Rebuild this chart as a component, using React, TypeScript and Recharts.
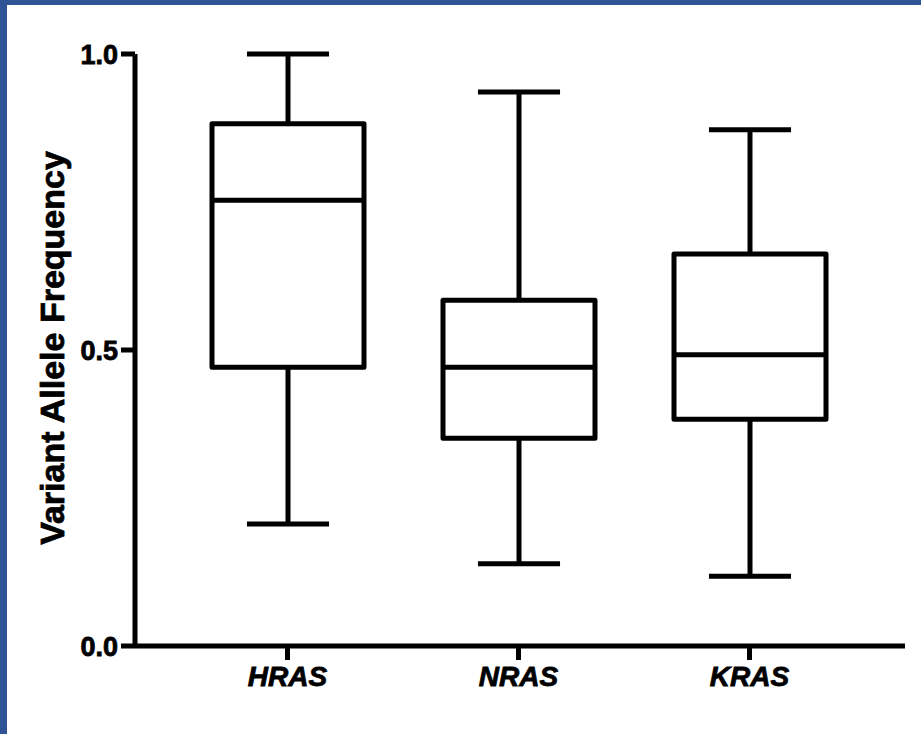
import React from 'react';
import { ComposedChart, Bar, XAxis, YAxis } from 'recharts';

const genes = ['HRAS', 'NRAS', 'KRAS'];
const minVals = [0.206, 0.139, 0.118];
const q1Vals = [0.471, 0.351, 0.383];
const medianVals = [0.753, 0.471, 0.492];
const q3Vals = [0.882, 0.584, 0.662];
const maxVals = [1.0, 0.936, 0.872];
const yTicks = [0, 0.5, 1];

const data = genes.map((gene, i) => ({
  gene,
  min: minVals[i],
  q1: q1Vals[i],
  median: medianVals[i],
  q3: q3Vals[i],
  max: maxVals[i],
}));

const FONT = '"Liberation Sans", Arial, Helvetica, sans-serif';

// ranged bar [min, max]; inner values are placed linearly between the two pixel ends
const BoxShape = (props: any) => {
  const { x, y, width, height, payload } = props;
  const top = Math.min(y, y + height);
  const bottom = Math.max(y, y + height);
  const { min, q1, median, q3, max } = payload;
  const toPx = (v: number) => bottom - ((v - min) / (max - min)) * (bottom - top);
  const cx = x + width / 2;
  const capHalf = width * 0.27;
  const sw = 5;
  return (
    <g stroke="#000" strokeWidth={sw} fill="none">
      <line x1={cx} x2={cx} y1={toPx(max)} y2={toPx(q3)} />
      <line x1={cx} x2={cx} y1={toPx(q1)} y2={toPx(min)} />
      <line x1={cx - capHalf} x2={cx + capHalf} y1={toPx(max)} y2={toPx(max)} />
      <line x1={cx - capHalf} x2={cx + capHalf} y1={toPx(min)} y2={toPx(min)} />
      <rect x={x} y={toPx(q3)} width={width} height={toPx(q1) - toPx(q3)} fill="#fff" strokeLinejoin="round" />
      <line x1={x} x2={x + width} y1={toPx(median)} y2={toPx(median)} />
    </g>
  );
};

const YLabel = (props: any) => {
  const { viewBox } = props;
  const cx = viewBox.x + 52;
  const cy = viewBox.y + viewBox.height / 2 - 2;
  return (
    <text
      x={cx}
      y={cy}
      transform={`rotate(-90, ${cx}, ${cy})`}
      textAnchor="middle"
      dominantBaseline="central"
      stroke="#000"
      strokeWidth={0.8}
      style={{ fontFamily: FONT, fontWeight: 'bold', fontSize: 34, fill: '#000' }}
    >
      Variant Allele Frequency
    </text>
  );
};

const App = () => {
  return (
    <div
      style={{
        position: 'absolute',
        left: 0,
        top: 0,
        width: 921,
        height: 734,
        background: '#fff',
        boxSizing: 'border-box',
        borderTop: '5px solid #2f5496',
        borderLeft: '7px solid #2f5496',
      }}
    >
      <div style={{ position: 'absolute', left: -7, top: -5 }}>
        <ComposedChart width={921} height={734} data={data} margin={{ top: 54, right: 16, bottom: 28, left: 0 }}>
          <XAxis
            dataKey="gene"
            height={60}
            padding={{ left: 37, right: 40 }}
            axisLine={{ stroke: '#000', strokeWidth: 5 }}
            tickLine={{ stroke: '#000', strokeWidth: 5 }}
            tickSize={14}
            tickMargin={6}
            tick={{ fill: '#000', stroke: '#000', strokeWidth: 0.8, fontFamily: FONT, fontWeight: 'bold', fontStyle: 'italic', fontSize: 28 }}
          />
          <YAxis
            width={135}
            domain={[0, 1]}
            ticks={yTicks}
            tickFormatter={(v: number) => v.toFixed(1)}
            axisLine={{ stroke: '#000', strokeWidth: 5 }}
            tickLine={{ stroke: '#000', strokeWidth: 5 }}
            tickSize={14}
            tickMargin={3}
            tick={{ fill: '#000', stroke: '#000', strokeWidth: 0.8, fontFamily: FONT, fontWeight: 'bold', fontSize: 27 }}
            label={<YLabel />}
          />
          <Bar
            dataKey={(d: any) => [d.min, d.max]}
            barSize={152}
            shape={<BoxShape />}
            isAnimationActive={false}
          />
        </ComposedChart>
      </div>
    </div>
  );
};

export default App;
